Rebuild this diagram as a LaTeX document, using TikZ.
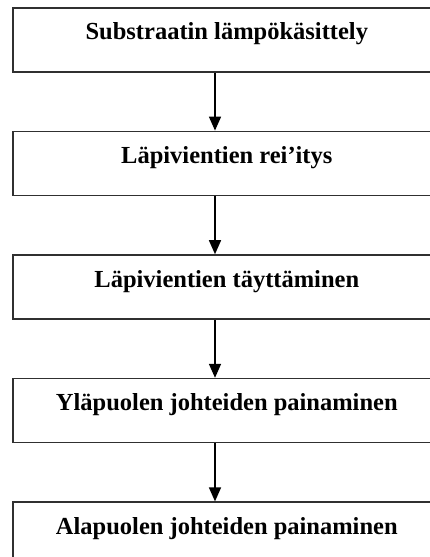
\documentclass[tikz,border=0pt]{standalone}
\usepackage{fontspec}
\setmainfont{Liberation Serif}
\usepackage{tikz}
\usetikzlibrary{arrows.meta,positioning}
\definecolor{edge}{HTML}{303030}
\tikzset{stepbox/.style={draw=edge,line width=1.6pt,minimum width=428pt,minimum height=64pt,inner sep=0pt,text height=16pt,text depth=16pt,font=\fontsize{24.5}{28}\selectfont\bfseries},flow/.style={-{Triangle[length=14pt,width=12pt]},draw=black,line width=1.5pt}}

\begin{document}
\begin{tikzpicture}[x=1pt,y=1pt,node distance=58pt]
\useasboundingbox[fill=white] (0,0) rectangle (429,-557);
\node[stepbox,anchor=north west] (s1) at (12,-7) {Substraatin lämpökäsittely};
\node[stepbox,below=of s1] (s2) {Läpivientien rei’itys};
\node[stepbox,below=of s2] (s3) {Läpivientien täyttäminen};
\node[stepbox,below=of s3] (s4) {Yläpuolen johteiden painaminen};
\node[stepbox,below=of s4] (s5) {Alapuolen johteiden painaminen};
\coordinate (ax) at (215,0);
\draw[flow] (s1.south -| ax)--(s2.north -| ax);\draw[flow] (s2.south -| ax)--(s3.north -| ax);
\draw[flow] (s3.south -| ax)--(s4.north -| ax);\draw[flow] (s4.south -| ax)--(s5.north -| ax);
\end{tikzpicture}
\end{document}
